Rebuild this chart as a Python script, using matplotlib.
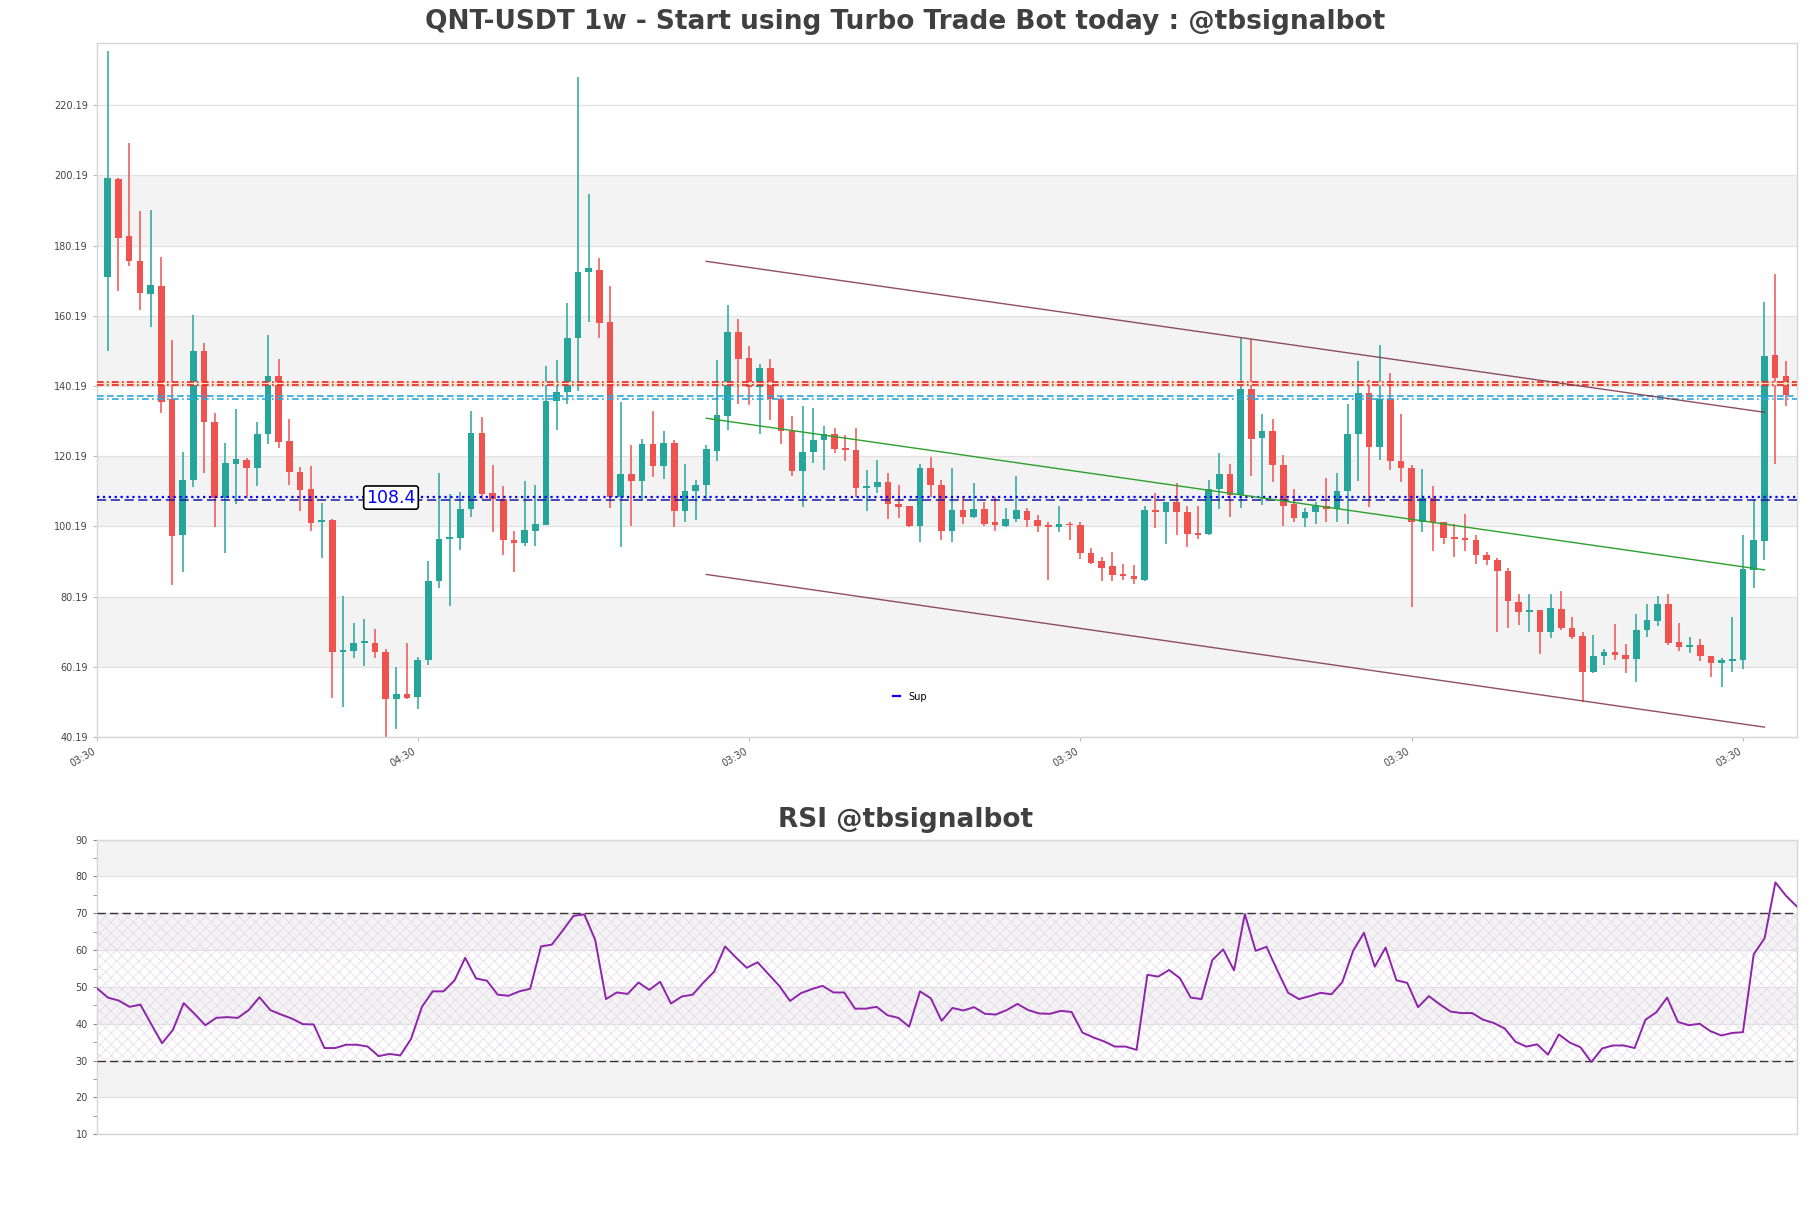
import numpy as np
import matplotlib
matplotlib.use("Agg")
import matplotlib.pyplot as plt
from matplotlib.lines import Line2D

# weekly candles
opens = [171.2, 199.1, 182.8, 175.9, 166.4, 168.8, 136.4, 97.7, 113.5, 150.2,
         129.9, 108.3, 118.1, 119.2, 116.8, 126.5, 143.1, 124.4, 115.6, 110.7,
         101.3, 101.9, 64.4, 64.6, 66.9, 67.0, 64.4, 51.1, 52.4, 51.5,
         62.0, 84.6, 96.7, 96.8, 105.1, 126.8, 109.8, 107.9, 96.4, 95.4,
         99.0, 100.5, 136.0, 138.5, 153.9, 172.6, 173.2, 158.3, 108.5, 115.1,
         113.1, 123.8, 117.4, 124.0, 104.7, 110.4, 112.0, 121.6, 131.7, 155.7,
         148.3, 139.8, 145.4, 136.6, 127.4, 115.9, 121.5, 124.7, 126.6, 122.4,
         121.9, 111.1, 111.3, 112.7, 106.7, 105.9, 100.2, 116.9, 112.0, 99.0,
         105.0, 103.0, 105.2, 101.3, 100.2, 102.3, 104.7, 102.0, 100.5, 100.0,
         101.0, 100.5, 92.7, 90.3, 88.8, 86.6, 86.0, 85.0, 105.0, 104.2,
         107.0, 104.4, 98.2, 98.0, 110.7, 115.1, 109.2, 139.3, 125.3, 127.5,
         117.8, 106.5, 102.5, 104.4, 106.0, 105.2, 110.2, 126.6, 138.3, 122.8,
         136.4, 118.9, 116.8, 101.5, 108.3, 101.5, 97.1, 96.8, 96.3, 92.0,
         90.6, 87.5, 78.6, 75.9, 76.4, 70.1, 76.7, 71.2, 69.1, 58.8,
         63.4, 64.4, 63.6, 62.3, 70.6, 73.3, 78.2, 67.3, 65.8, 66.3,
         63.3, 61.3, 61.8, 62.1, 87.8, 96.0, 149.1, 143.1]
highs = [235.7, 199.5, 209.4, 189.9, 190.2, 177.0, 153.2, 121.5, 160.4, 152.4,
         132.4, 124.0, 133.5, 119.8, 129.9, 154.8, 148.0, 130.9, 117.2, 117.4,
         106.9, 102.4, 80.4, 72.8, 73.9, 71.0, 65.3, 60.2, 66.9, 63.0,
         90.3, 115.4, 109.5, 110.0, 133.2, 131.4, 117.6, 111.8, 99.0, 113.2,
         112.0, 145.9, 147.7, 163.9, 228.1, 195.0, 176.7, 168.6, 135.7, 123.3,
         125.1, 133.2, 127.3, 124.8, 118.1, 113.5, 123.4, 147.7, 163.4, 159.3,
         151.7, 146.4, 148.0, 137.3, 131.7, 134.6, 134.0, 128.9, 128.1, 126.1,
         128.1, 116.2, 119.0, 115.3, 112.1, 106.0, 118.1, 120.0, 113.5, 116.9,
         108.9, 112.6, 107.2, 108.6, 105.5, 114.5, 105.5, 103.4, 101.5, 106.0,
         101.5, 101.5, 94.0, 91.5, 93.0, 89.6, 89.3, 106.0, 109.7, 107.2,
         112.6, 106.0, 106.0, 113.5, 121.0, 118.1, 153.9, 153.7, 132.1, 130.9,
         120.6, 110.9, 105.5, 107.2, 114.0, 115.3, 135.1, 147.2, 142.0, 151.8,
         144.0, 132.1, 117.8, 116.5, 111.7, 101.5, 100.8, 103.7, 97.7, 93.0,
         91.3, 88.3, 81.0, 80.9, 76.4, 81.0, 81.8, 74.5, 70.1, 69.3,
         65.4, 72.5, 66.8, 75.1, 78.2, 80.5, 81.0, 72.8, 68.8, 68.1,
         63.3, 62.6, 74.5, 97.7, 108.1, 164.0, 172.0, 147.2]
lows = [150.1, 167.3, 174.3, 161.8, 157.0, 132.4, 83.5, 87.1, 111.3, 115.3,
        100.0, 92.6, 106.5, 108.3, 111.7, 123.8, 122.5, 112.1, 104.6, 98.9,
        91.1, 51.3, 48.7, 62.6, 60.4, 62.7, 40.19, 42.4, 51.1, 48.3,
        60.8, 82.7, 77.6, 93.5, 102.9, 107.9, 98.6, 92.0, 87.1, 94.5,
        94.5, 100.5, 127.6, 135.0, 138.8, 158.4, 153.9, 105.3, 94.3, 100.2,
        107.5, 114.2, 113.6, 100.0, 101.3, 101.9, 108.1, 118.8, 127.6, 135.1,
        134.9, 126.5, 130.5, 123.8, 114.6, 105.7, 118.2, 116.3, 121.1, 118.7,
        108.5, 104.7, 109.8, 102.2, 102.5, 100.0, 95.8, 108.5, 96.2, 95.8,
        100.8, 102.5, 100.2, 99.0, 100.0, 101.3, 100.0, 98.5, 85.0, 98.7,
        96.4, 91.0, 89.4, 84.7, 84.7, 85.0, 83.7, 84.5, 99.7, 95.3,
        97.7, 94.3, 96.7, 97.7, 105.2, 102.8, 105.3, 114.5, 106.2, 112.7,
        100.2, 101.5, 100.0, 101.0, 101.5, 101.3, 100.8, 113.0, 105.7, 119.0,
        116.3, 112.7, 77.1, 98.5, 93.3, 95.3, 91.5, 93.3, 89.6, 89.1,
        70.1, 71.2, 72.0, 70.1, 63.7, 68.3, 70.6, 68.0, 50.3, 58.5,
        60.8, 62.1, 58.4, 55.9, 68.8, 71.7, 66.5, 64.6, 64.1, 61.8,
        57.4, 54.4, 58.8, 59.5, 82.6, 90.6, 117.9, 134.5]
closes = [199.4, 182.3, 175.8, 166.7, 169.1, 135.6, 97.5, 113.5, 150.2, 129.9,
          108.3, 118.3, 119.3, 116.8, 126.6, 142.9, 124.2, 115.6, 110.6, 101.1,
          102.0, 64.4, 64.9, 66.9, 67.1, 64.4, 51.1, 52.4, 51.2, 62.0,
          84.7, 96.7, 96.9, 105.2, 126.8, 109.5, 108.1, 96.2, 95.4, 99.2,
          100.8, 136.0, 138.5, 153.9, 172.8, 173.7, 158.1, 108.5, 115.1, 113.2,
          123.8, 117.4, 124.0, 104.7, 110.4, 112.1, 122.1, 131.8, 155.5, 147.8,
          139.8, 145.4, 136.6, 127.4, 115.9, 121.5, 124.7, 126.6, 122.1, 121.9,
          111.1, 111.7, 112.7, 106.5, 105.7, 100.2, 116.7, 112.0, 99.0, 105.0,
          103.0, 105.2, 100.8, 100.5, 102.3, 105.0, 102.0, 100.2, 100.0, 101.0,
          100.5, 92.5, 89.8, 88.3, 86.3, 86.0, 85.2, 105.0, 104.2, 107.0,
          104.2, 98.0, 97.7, 110.7, 115.1, 109.2, 139.3, 125.1, 127.5, 117.6,
          106.0, 102.5, 104.4, 106.0, 105.1, 110.4, 126.6, 138.3, 122.8, 136.6,
          118.8, 116.8, 101.5, 108.3, 101.3, 96.8, 96.6, 96.3, 92.0, 90.6,
          87.5, 78.9, 75.7, 76.4, 70.1, 76.9, 71.2, 68.8, 58.8, 63.4,
          64.4, 63.6, 62.3, 70.6, 73.4, 78.2, 67.0, 65.8, 66.3, 63.3,
          61.3, 62.1, 62.3, 88.0, 96.2, 148.7, 142.6, 137.7]

rsi = [49.6, 47.1, 46.3, 44.6, 45.2, 39.9, 34.7, 38.3, 45.6, 42.7,
       39.6, 41.6, 41.8, 41.6, 43.7, 47.2, 43.7, 42.5, 41.4, 39.9,
       39.8, 33.4, 33.4, 34.3, 34.3, 33.8, 31.2, 31.8, 31.4, 35.9,
       44.6, 48.8, 48.8, 51.7, 57.9, 52.3, 51.7, 47.9, 47.6, 48.8,
       49.5, 61.0, 61.5, 65.3, 69.3, 69.7, 62.8, 46.7, 48.5, 48.1,
       51.2, 49.2, 51.4, 45.5, 47.4, 47.9, 51.2, 54.2, 61.0, 58.0,
       55.2, 56.7, 53.5, 50.3, 46.2, 48.3, 49.4, 50.3, 48.5, 48.5,
       44.1, 44.1, 44.6, 42.3, 41.6, 39.2, 48.8, 46.9, 40.8, 44.3,
       43.6, 44.5, 42.7, 42.5, 43.7, 45.4, 43.7, 42.8, 42.7, 43.5,
       43.2, 37.6, 36.3, 35.2, 33.8, 33.8, 32.9, 53.3, 52.8, 54.6,
       52.4, 47.1, 46.7, 57.3, 60.2, 54.5, 69.8, 59.8, 60.9, 54.5,
       48.4, 46.7, 47.5, 48.4, 48.0, 51.3, 59.8, 64.7, 55.5, 60.7,
       51.8, 51.1, 44.5, 47.5, 45.3, 43.3, 42.9, 42.9, 41.1, 40.2,
       38.7, 35.1, 33.8, 34.4, 31.6, 37.1, 34.9, 33.6, 29.6, 33.3,
       34.1, 34.1, 33.4, 41.1, 43.1, 47.1, 40.5, 39.6, 40.0, 38.0,
       36.8, 37.5, 37.7, 58.9, 63.2, 78.4, 74.7, 71.8]

price_ticks = [40.19, 60.19, 80.19, 100.19, 120.19, 140.19, 160.19, 180.19, 200.19, 220.19]
date_ticks = [-1, 29, 60, 91, 122, 153]
date_labels = ["03:30", "04:30", "03:30", "03:30", "03:30", "03:30"]

resistance = [141.35, 140.45]
pivot = [137.25, 136.55]
support = 108.4

# channel (start index, end index, start price, end price)
chan_x = [56, 155]
chan_top = [175.7, 132.7]
chan_mid = [131.0, 87.8]
chan_bot = [86.5, 43.0]

UP = "#26a69a"
DOWN = "#ef5350"
BAND = "#f3f3f3"
GRID = "#e2e2e2"
TXT = "#444444"

plt.rcParams["hatch.linewidth"] = 0.5

fig = plt.figure(figsize=(18.11, 12.08), dpi=100)
ax = fig.add_axes([0.0536, 0.3899, 0.9387, 0.5745])
ax2 = fig.add_axes([0.0536, 0.0611, 0.9387, 0.2438])

n = len(opens)
x = np.arange(n)
o = np.array(opens); h = np.array(highs); l = np.array(lows); c = np.array(closes)
up = c >= o
cols = np.where(up, UP, DOWN)

# background bands and grid
for lo_, hi_ in [(180.19, 200.19), (140.19, 160.19), (100.19, 120.19), (60.19, 80.19)]:
    ax.axhspan(lo_, hi_, color=BAND, zorder=0, lw=0)
for t in price_ticks:
    ax.axhline(t, color=GRID, lw=0.9, zorder=0.5)

ax.vlines(x, l, h, colors=cols, lw=1.1, zorder=2)
body = np.maximum(np.abs(c - o), 0.5)
ax.bar(x, body, bottom=np.minimum(o, c), width=0.62, color=cols, zorder=3, lw=0)

# horizontal levels
ax.axhspan(resistance[1], resistance[0], color="#fbe3c8", lw=0, zorder=3.5)
ax.axhline(resistance[0], color="#ee2222", ls=(0, (4, 2, 1, 2)), lw=1.2, zorder=4)
ax.axhline(resistance[1], color="#ee2222", ls=(0, (4, 2, 1, 2)), lw=1.2, zorder=4)
ax.axhline(pivot[0], color="#2fa6dc", ls=(0, (4, 2)), lw=1.2, zorder=4)
ax.axhline(pivot[1], color="#2fa6dc", ls=(0, (4, 2, 1, 2)), lw=1.2, zorder=4)
ax.axhline(support + 0.25, color="blue", ls=":", lw=1.6, zorder=4)
ax.axhline(support - 0.65, color="#1a1aa0", ls=(0, (6, 3)), lw=1.1, zorder=4)
ax.text(26.5, support, f"{support}", color="blue", fontsize=12.5, ha="center", va="center",
        zorder=6, bbox=dict(boxstyle="round,pad=0.15", fc="white", ec="black", lw=1.2))

# trend channel
ax.plot(chan_x, chan_top, color="#7d2f45", lw=1.0, alpha=0.85, zorder=4)
ax.plot(chan_x, chan_bot, color="#7d2f45", lw=1.0, alpha=0.85, zorder=4)
ax.plot(chan_x, chan_mid, color="#2ca02c", lw=1.0, zorder=4)

ax.legend(handles=[Line2D([0], [0], color="blue", lw=1.6)], labels=["Sup"],
          loc="center", bbox_to_anchor=(0.478, 0.058), frameon=False, fontsize=7,
          handlelength=0.8, handletextpad=0.8)

ax.set_xlim(-1.0, n + 0.05)
ax.set_ylim(40.19, 237.9)
ax.set_yticks(price_ticks)
ax.set_yticklabels([f"{t:.2f}" for t in price_ticks])
ax.set_xticks(date_ticks)
ax.set_xticklabels(date_labels, rotation=30, ha="right")
ax.tick_params(axis="both", labelsize=7, colors=TXT, length=3, color="#bbbbbb")

fig.text(0.5, 0.9815, "QNT-USDT 1w - Start using Turbo Trade Bot today : @tbsignalbot",
         ha="center", va="center", fontsize=19, fontweight="bold", color="#404040")

# RSI panel
xr = np.arange(len(rsi))
for lo_, hi_ in [(80, 90), (60, 70), (40, 50), (20, 30)]:
    ax2.axhspan(lo_, hi_, color=BAND, zorder=0, lw=0)
for t in range(10, 91, 10):
    ax2.axhline(t, color=GRID, lw=0.9, zorder=0.5)
ax2.fill_between([0, len(rsi) - 1], 30, 70, facecolor="none", edgecolor="#e4d8ea",
                 hatch="xxx", lw=0, zorder=1)
ax2.axhline(70, color="#333333", ls=(0, (6, 3)), lw=1.0, zorder=3)
ax2.axhline(30, color="#333333", ls=(0, (6, 3)), lw=1.0, zorder=3)
ax2.plot(xr, rsi, color="#8e24aa", lw=1.4, zorder=4)
ax2.set_xlim(0, len(rsi) - 1)
ax2.set_ylim(10, 90)
ax2.set_yticks(range(10, 91, 10))
ax2.set_yticks(range(15, 90, 10), minor=True)
ax2.set_xticks([])
ax2.tick_params(axis="y", which="both", labelsize=7, colors=TXT, length=3, color="#888888")
fig.text(0.5, 0.3215, "RSI @tbsignalbot", ha="center", va="center",
         fontsize=19, fontweight="bold", color="#404040")

for a in (ax, ax2):
    for s in a.spines.values():
        s.set_color("#d6d6d6")
        s.set_linewidth(1.0)

fig.savefig("out.png", dpi=100, facecolor="white")
